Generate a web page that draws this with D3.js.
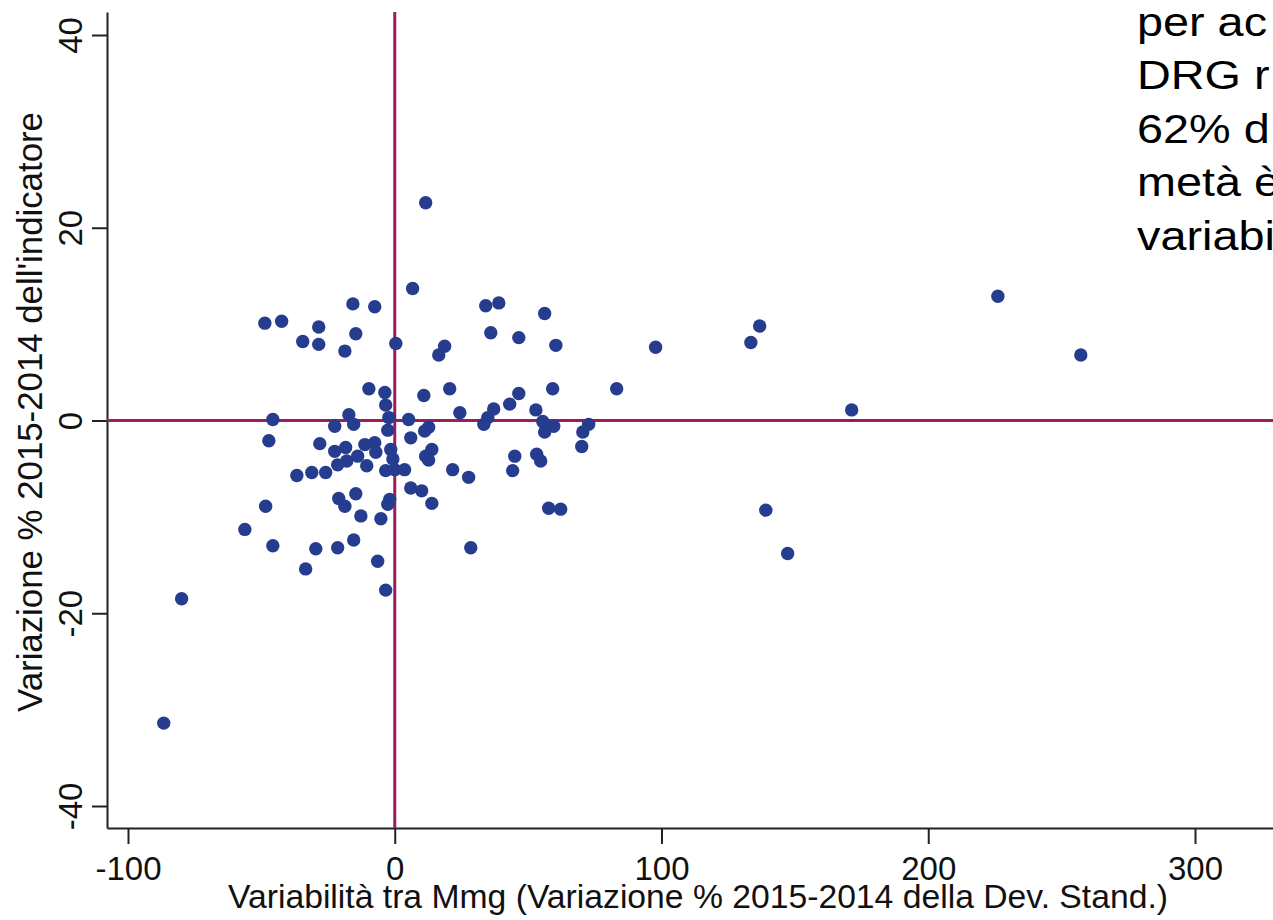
<!DOCTYPE html>
<html>
<head>
<meta charset="utf-8">
<script src="https://cdn.jsdelivr.net/npm/d3@7"></script>
<style>
  html, body { margin: 0; padding: 0; background: #fff; overflow: hidden; }
  svg { display: block; font-family: "Liberation Sans", Arial, sans-serif; }
</style>
</head>
<body>
<div id="chart"></div>
<script>
// Variabilità tra Mmg (x) vs variazione % dell'indicatore (y), one value per point
const xVals = [
  -86.6, -79.9, -56.2, -48.4, -45.7, -47.2, -45.7, -48.7, -42.4, -36.7,
  -34.5, -28.5, -28.5, -33.4, -31.1, -25.9, -28.1, -22.5, -22.5, -21.4,
  -18.4, -18.0, -18.7, -15.7, -17.2, -14.6, -15.4, -21.0, -18.7, -14.6,
  -21.4, -15.4, -29.6, -13.9, -7.5, -9.7, -3.7, -3.4, 0.4, -2.2,
  -2.6, -11.2, -7.5, -7.1, -10.5, -1.5, -0.7, -3.4, 0.0, 3.7,
  -1.9, -2.6, -12.7, -5.2, -6.4, -3.4, 6.7, 11.6, 5.2, 6.0,
  11.2, 12.7, 13.9, 11.6, 12.7, 6.0, 10.1, 13.9, 10.9, 16.5,
  18.7, 20.6, 24.4, 21.7, 27.7, 28.5, 34.1, 39.0, 36.0, 46.5,
  33.4, 34.9, 37.1, 43.1, 45.0, 44.2, 52.9, 55.5, 56.2, 59.6,
  56.2, 60.4, 59.2, 53.2, 54.7, 57.7, 62.2, 46.5, 70.5, 72.7,
  70.1, 83.2, 97.8, 133.5, 136.8, 171.3, 226.1, 257.2, 139.1, 147.3
];
const yVals = [
  -31.4, -18.5, -11.3, -8.9, -13.0, -2.1, 0.1, 10.1, 10.3, -5.7,
  8.2, 9.7, 7.9, -15.4, -5.4, -5.4, -2.4, -0.6, -3.2, -4.6,
  -2.8, -4.2, 7.2, 12.1, 0.6, 9.0, -0.4, -8.1, -8.9, -7.6,
  -13.2, -12.4, -13.3, -3.7, 11.8, 3.3, 2.9, 1.6, 8.0, 0.3,
  -1.0, -2.5, -2.3, -3.3, -4.7, -3.0, -4.0, -5.2, -5.1, -5.1,
  -8.2, -8.7, -9.9, -10.2, -14.6, -17.6, 13.7, 22.6, 0.1, -1.8,
  -1.1, -0.7, -3.0, -3.7, -4.1, -7.0, -7.3, -8.6, 2.6, 6.8,
  7.7, 3.3, 0.8, -5.1, -5.9, -13.2, 11.9, 12.2, 9.1, 8.6,
  -0.4, 0.3, 1.2, 1.7, -3.7, -5.2, 1.1, -0.1, -1.2, -0.6,
  11.1, 7.8, 3.3, -3.5, -4.2, -9.1, -9.2, 2.8, -1.2, -0.4,
  -2.7, 3.3, 7.6, 8.1, 9.8, 1.1, 12.9, 6.8, -9.3, -13.8
];
const xTicks = [-100, 0, 100, 200, 300];
const yTicks = [-40, -20, 0, 20, 40];
const xTitle = "Variabilità tra Mmg (Variazione % 2015-2014 della Dev. Stand.)";
const yTitle = "Variazione % 2015-2014 dell'indicatore";
// slide text sitting over the right edge of the picture
const sideLines = ["per ac", "DRG r", "62% d", "metà è", "variabi"];

const points = xVals.map((v, i) => ({ x: v, y: yVals[i] }));

const W = 1273, H = 920;
const dotColor = "#263c8f";
const refColor = "#9b1d5e";
const plain = d => String(d); // hyphen minus, as in the original

const svg = d3.select("#chart")
  .append("svg")
  .attr("width", W)
  .attr("height", H);

// scales: set on the tick positions, then stretched to the plot edges
const x = d3.scaleLinear().domain([-100, 300]).range([128, 1195]);
x.domain([x.invert(107), x.invert(W)]).range([107, W]);
const y = d3.scaleLinear().domain([-40, 40]).range([806, 35]);
y.domain([y.invert(828), y.invert(12)]).range([828, 12]);

// X axis
const gx = svg.append("g")
  .attr("transform", `translate(0,${y.range()[0]})`)
  .call(d3.axisBottom(x).tickValues(xTicks).tickFormat(plain).tickSize(16).tickSizeOuter(0));
gx.select(".domain").attr("stroke", "#222").attr("stroke-width", 2);
gx.selectAll(".tick line").attr("stroke", "#222").attr("stroke-width", 2);
gx.selectAll(".tick text")
  .attr("y", 52).attr("dy", null)
  .attr("fill", "#111")
  .style("font-size", "33px");

// Y axis
const gy = svg.append("g")
  .attr("transform", `translate(${x.range()[0]},0)`)
  .call(d3.axisLeft(y).tickValues(yTicks).tickFormat(plain).tickSize(15).tickSizeOuter(0));
gy.select(".domain").attr("stroke", "#222").attr("stroke-width", 2);
gy.selectAll(".tick line").attr("stroke", "#222").attr("stroke-width", 2);
gy.selectAll(".tick text")
  .attr("x", 0).attr("dy", null)
  .attr("transform", "translate(-25,0) rotate(-90)")
  .attr("text-anchor", "middle")
  .attr("fill", "#111")
  .style("font-size", "33px");

// reference lines at zero
svg.append("line")
  .attr("x1", x.range()[0]).attr("x2", x.range()[1])
  .attr("y1", y(0)).attr("y2", y(0))
  .attr("stroke", refColor).attr("stroke-width", 3);
svg.append("line")
  .attr("x1", x(0)).attr("x2", x(0))
  .attr("y1", y.range()[1]).attr("y2", y.range()[0])
  .attr("stroke", refColor).attr("stroke-width", 3);

// points
svg.append("g")
  .selectAll("circle")
  .data(points)
  .enter()
  .append("circle")
  .attr("cx", d => x(d.x))
  .attr("cy", d => y(d.y))
  .attr("r", 6.7)
  .attr("fill", dotColor);

// axis titles
svg.append("text")
  .attr("x", 698).attr("y", 908)
  .attr("text-anchor", "middle")
  .attr("fill", "#111")
  .style("font-size", "33.7px")
  .text(xTitle);

svg.append("text")
  .attr("transform", "translate(42,412) rotate(-90)")
  .attr("text-anchor", "middle")
  .attr("fill", "#111")
  .style("font-size", "34.8px")
  .text(yTitle);

// cut-off slide text, top right
svg.append("g")
  .attr("transform", "translate(1137,0) scale(1.17,1)")
  .selectAll("text")
  .data(sideLines)
  .enter()
  .append("text")
  .attr("x", 0)
  .attr("y", (d, i) => 36 + i * 53.5)
  .attr("fill", "#000")
  .style("font-size", "40px")
  .text(d => d);
</script>
</body>
</html>
